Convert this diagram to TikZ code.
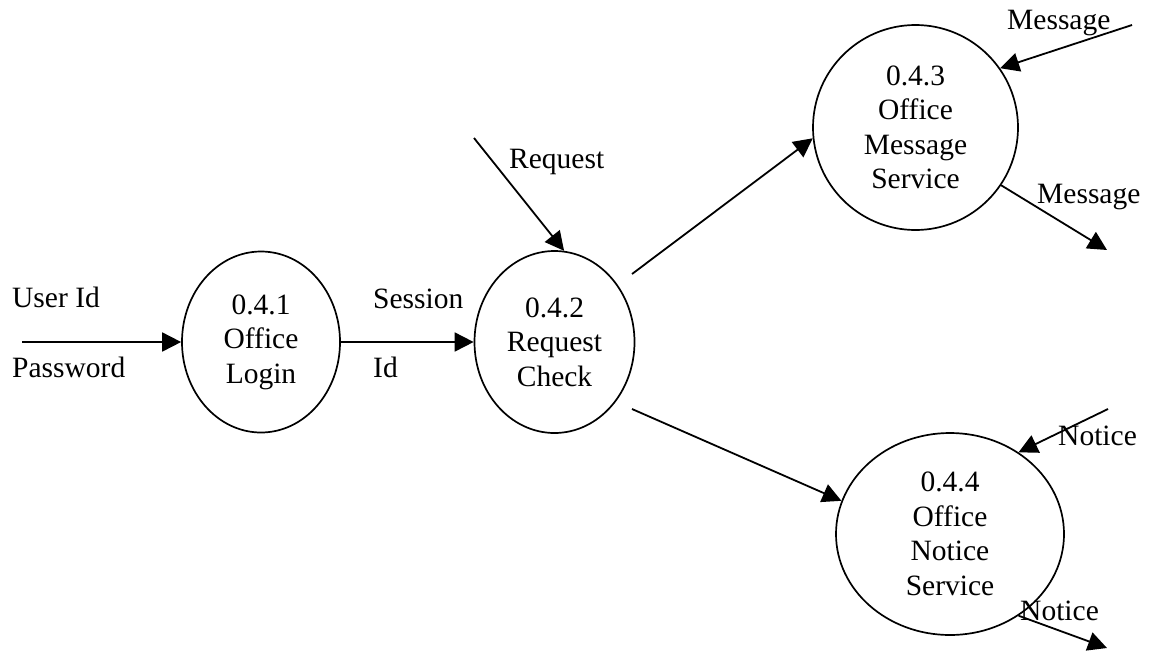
\documentclass[tikz,border=0pt]{standalone}
\usepackage{fontspec}
\setmainfont{Liberation Serif}
\usetikzlibrary{arrows.meta,shapes.geometric}
\begin{document}
\begin{tikzpicture}[x=1pt,y=-1pt,
  every node/.style={font=\fontsize{29.5}{34.5}\selectfont},
  proc/.style={draw, ellipse, line width=1.7pt, inner sep=0pt, align=center},
  lbl/.style={anchor=base west, inner sep=0pt},
  flow/.style={line width=1.8pt, -{Triangle[length=19pt,width=19pt]}}]
\useasboundingbox (0,0) rectangle (1151,662);
% processes
\node[proc, minimum width=158pt, minimum height=181pt] (e1) at (261,342) {0.4.1\\Office\\Login};
\node[proc, minimum width=160pt, minimum height=182pt] (e2) at (554.5,342) {0.4.2\\Request\\Check};
\node[proc, minimum width=205pt, minimum height=205pt] (e3) at (915.5,127.5) {0.4.3\\Office\\Message\\Service};
\node[proc, minimum width=228pt, minimum height=202pt] (e4) at (950,534) {0.4.4\\Office\\Notice\\Service};
% free ends
\coordinate (uin) at (22,342);
\coordinate (rin) at (474,138);
\coordinate (s23) at (632,274);
\coordinate (s24) at (632,409);
\coordinate (min) at (1132,25);
\coordinate (mout) at (1107,250);
\coordinate (nin) at (1108,409);
\coordinate (nout) at (1107,648);
% flows
\draw[flow] (uin) -- (e1.west);
\draw[flow] (e1.east) -- (e2.west);
\draw[flow] (rin) -- (e2.84);
\draw[flow] (s23) -- (e3.186);
\draw[flow] (s24) -- (e4.163);
\draw[flow] (min) -- (e3.35);
\draw[flow] (e3.-34) -- (mout);
\draw[flow] (nin) -- (e4.50);
\draw[flow] (e4.-50) -- (nout);
% labels
\node[lbl] (l1) at (12,307) {User Id};
\node[lbl] (l2) at (12,377) {Password};
\node[lbl] (l3) at (373,308) {Session};
\node[lbl] (l4) at (373,377) {Id};
\node[lbl] (l5) at (509,168) {Request};
\node[lbl] (l6) at (1007,29) {Message};
\node[lbl] (l7) at (1037,203) {Message};
\node[lbl] (l8) at (1058,445) {Notice};
\node[lbl] (l9) at (1020,620) {Notice};
\end{tikzpicture}
\end{document}
